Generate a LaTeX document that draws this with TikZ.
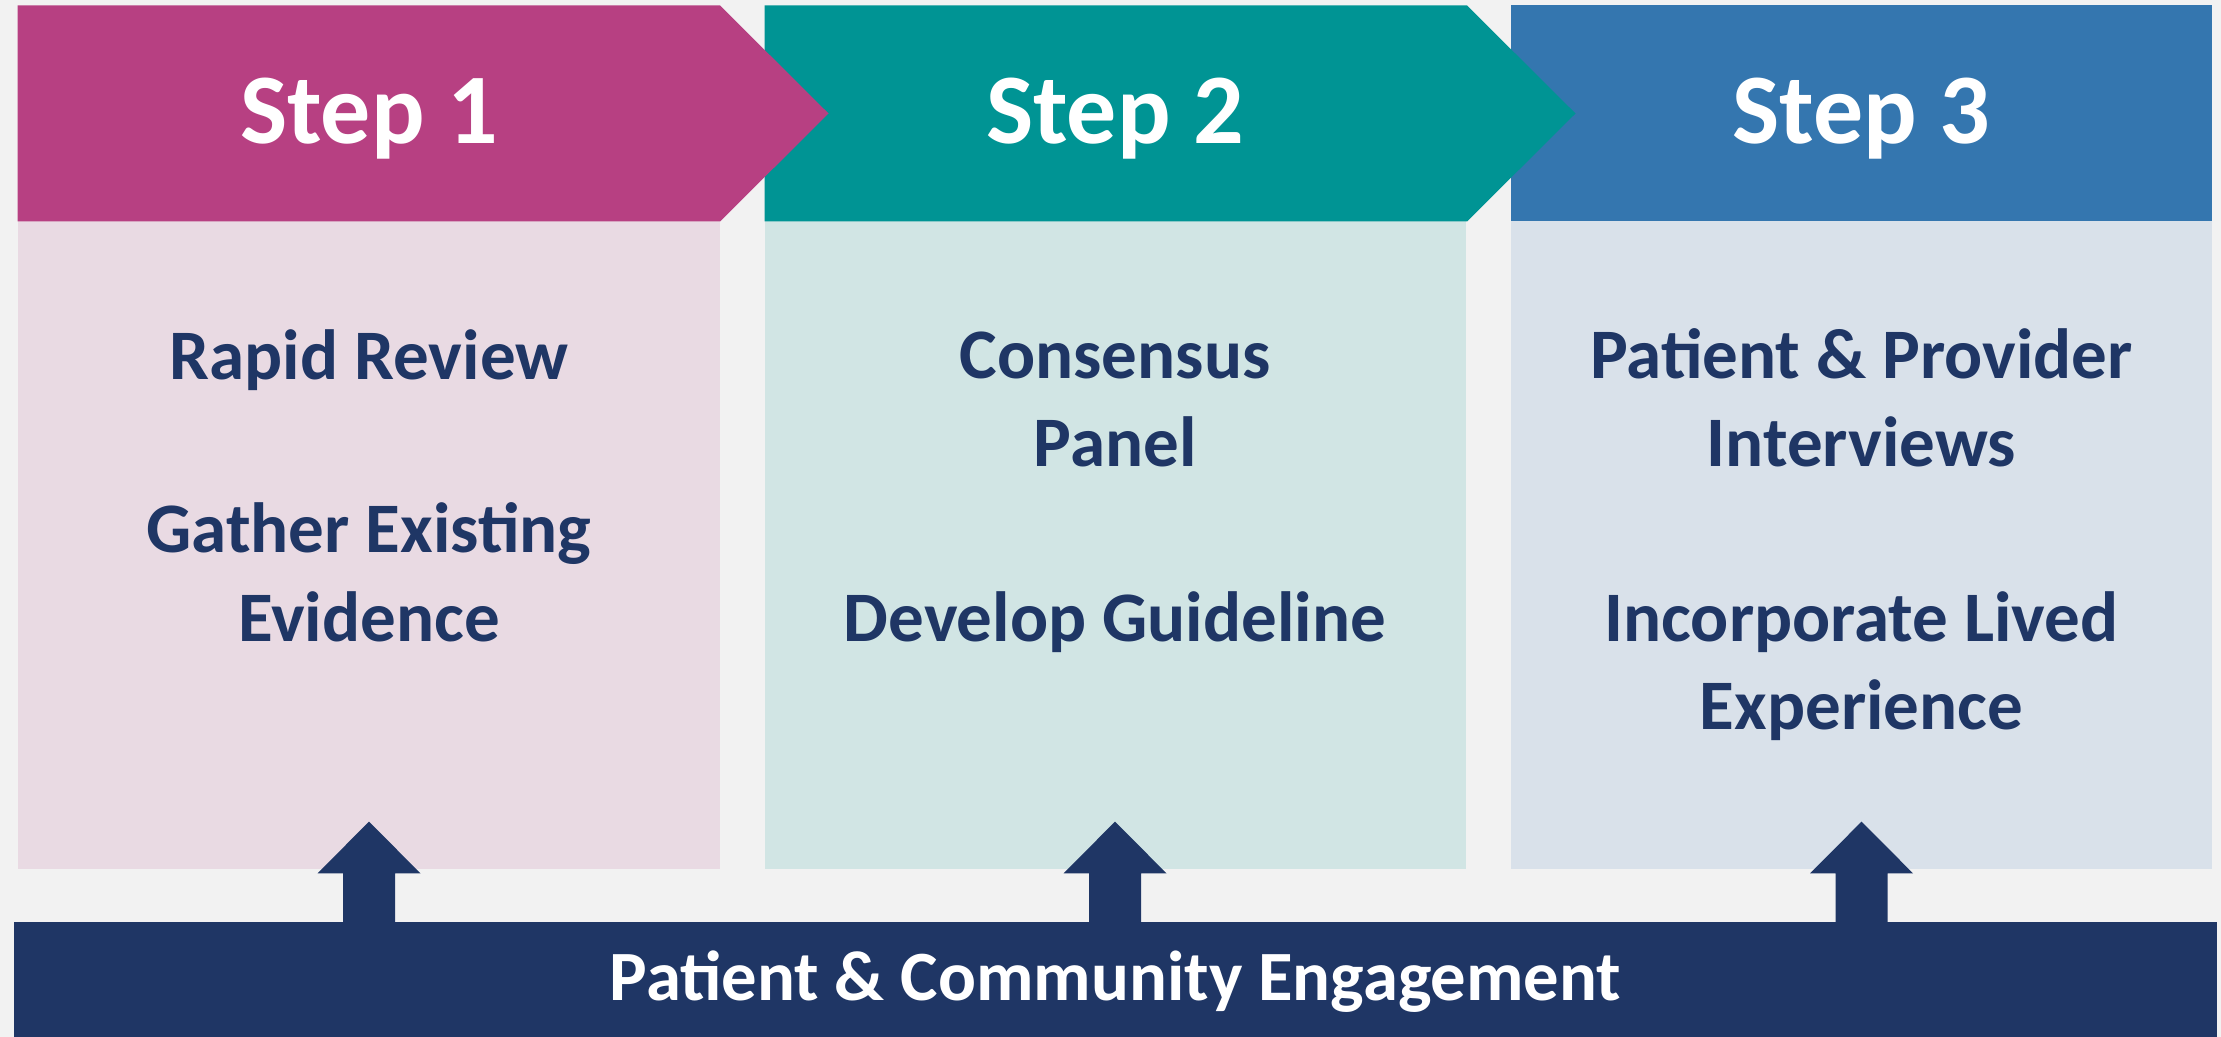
\documentclass[tikz,border=0pt]{standalone}
\usepackage{fontspec}
\setmainfont{Carlito}
\definecolor{pagebg}{HTML}{F2F2F2}
\definecolor{stepone}{HTML}{B74082}
\definecolor{steptwo}{HTML}{009494}
\definecolor{stepthree}{HTML}{3476AF}
\definecolor{paleone}{HTML}{E9DAE3}
\definecolor{paletwo}{HTML}{D1E5E4}
\definecolor{palethree}{HTML}{D9E1EA}
\definecolor{navy}{HTML}{1F3665}
\begin{document}
\begin{tikzpicture}[x=0.01cm,y=-0.01cm,
  steptitle/.style={anchor=base,text=white,font=\fontsize{28.4}{34}\selectfont\bfseries,inner sep=0pt},
  bodyline/.style={anchor=base,text=navy,font=\fontsize{20.2}{25}\selectfont\bfseries,inner sep=0pt},
  barline/.style={anchor=base,text=white,font=\fontsize{20.1}{24}\selectfont\bfseries,inner sep=0pt},
  uparrow/.style={fill=navy}]
\useasboundingbox (0,0) rectangle (2221,1037);
\fill[pagebg] (0,0) rectangle (2221,1037);

% pale content panels
\fill[paleone]   (18,221.5)   rectangle (719.5,868.5);
\fill[paletwo]   (764.5,221.5) rectangle (1465.5,868.5);
\fill[palethree] (1511,221.5)  rectangle (2212,868.5);

% step headers (later steps first, so each chevron tip overlaps the next)
\fill[stepthree] (1511,5.5) rectangle (2212,221.5);
\fill[steptwo] (764.5,5.5) -- (1467,5.5) -- (1575.5,113.5) -- (1467,221.5) -- (764.5,221.5) -- cycle;
\fill[stepone] (17.5,5.5) -- (720,5.5) -- (828.5,113.5) -- (720,221.5) -- (17.5,221.5) -- cycle;

\node[steptitle] (s1) at (369,144) {Step 1};
\node[steptitle] (s2) at (1115,144) {Step 2};
\node[steptitle] (s3) at (1861.5,144) {Step 3};

% panel texts
\node[bodyline] (p1a) at (369,380) {Rapid Review};
\node[bodyline] (p1b) at (369,553) {Gather Existing};
\node[bodyline] (p1c) at (369,642) {Evidence};

\node[bodyline] (p2a) at (1115,379) {Consensus};
\node[bodyline] (p2b) at (1115,467) {Panel};
\node[bodyline] (p2c) at (1115,642) {Develop Guideline};

\node[bodyline] (p3a) at (1861.5,379) {Patient \& Provider};
\node[bodyline] (p3b) at (1861.5,467) {Interviews};
\node[bodyline] (p3c) at (1861.5,642) {Incorporate Lived};
\node[bodyline] (p3d) at (1861.5,730) {Experience};

% engagement bar
\fill[navy] (13.5,921.7) rectangle (2216.5,1037);
\node[barline] (bar) at (1115.5,1000) {Patient \& Community Engagement};

% block arrows from the bar up into each panel
\foreach \cx/\nm in {369/a1,1115/a2,1861.5/a3}{
  \coordinate (\nm) at (\cx,821.7);
  \fill[uparrow] (\nm) -- ++(51.5,51.6) -- ++(-25.5,0) -- ++(0,50) -- ++(-52,0)
     -- ++(0,-50) -- ++(-25.5,0) -- cycle;
}
\end{tikzpicture}
\end{document}
